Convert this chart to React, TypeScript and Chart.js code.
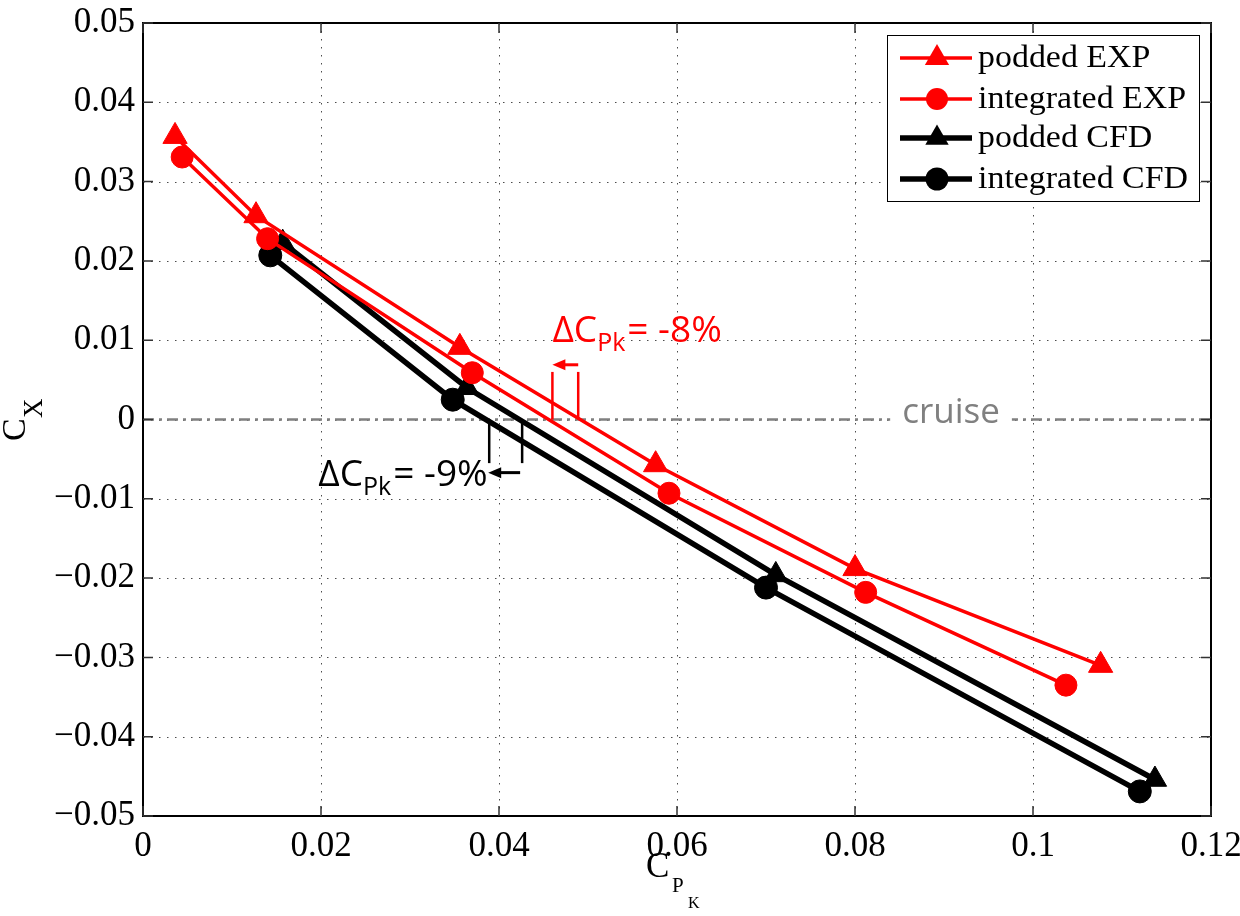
import React, { useEffect, useRef } from "react";
import { Chart, registerables } from "chart.js";

Chart.register(...registerables);

// ---- data ----
const poddedExpX = [0.0036, 0.0127, 0.0356, 0.0576, 0.0800, 0.1076];
const poddedExpY = [0.0357, 0.0257, 0.0091, -0.0057, -0.0188, -0.0310];
const integratedExpX = [0.0044, 0.0140, 0.0370, 0.0591, 0.0812, 0.1037];
const integratedExpY = [0.0331, 0.0228, 0.0059, -0.0093, -0.0218, -0.0335];
const poddedCfdX = [0.0157, 0.0364, 0.0711, 0.1137];
const poddedCfdY = [0.0223, 0.0040, -0.0196, -0.0454];
const integratedCfdX = [0.0143, 0.0348, 0.0700, 0.1120];
const integratedCfdY = [0.0207, 0.0025, -0.0212, -0.0469];

const seriesNames = ["podded EXP", "integrated EXP", "podded CFD", "integrated CFD"];

const xTickValues = [0, 0.02, 0.04, 0.06, 0.08, 0.1, 0.12];
const xTickLabels = ["0", "0.02", "0.04", "0.06", "0.08", "0.1", "0.12"];
const yTickValues = [-0.05, -0.04, -0.03, -0.02, -0.01, 0, 0.01, 0.02, 0.03, 0.04, 0.05];
const yTickLabels = ["\u22120.05", "\u22120.04", "\u22120.03", "\u22120.02", "\u22120.01", "0", "0.01", "0.02", "0.03", "0.04", "0.05"];

// annotation anchors (data coordinates)
const cruiseY = 0;
const cruiseLabel = "cruise";
const cruiseLabelPos = [0.0853, -0.0004];
const redBracketX = [0.0460, 0.0489];
const redBracketY = [0.0060, 0];
const redArrowY = 0.0069;
const redLabel = ["\u0394C", "Pk", "= -8%"];
const redLabelPos = [0.0460, 0.0098];
const blackBracketX = [0.0389, 0.0426];
const blackBracketY = [0, -0.0055];
const blackArrowY = -0.0067;
const blackLabel = ["\u0394C", "Pk", "= -9%"];
const blackLabelPos = [0.0197, -0.0084];

const RED = "#ff0000";
const BLACK = "#000000";
const SERIF = '"Liberation Serif", "Times New Roman", serif';
const SANS = '"Open Sans", sans-serif';

function toPoints(xs: number[], ys: number[]) {
  return xs.map((x, i) => ({ x, y: ys[i] }));
}

function drawMarker(ctx: CanvasRenderingContext2D, style: string, x: number, y: number, r: number, color: string) {
  ctx.save();
  ctx.fillStyle = color;
  ctx.beginPath();
  if (style === "triangle") {
    let rad = 0;
    ctx.moveTo(x + Math.sin(rad) * r, y - Math.cos(rad) * r);
    rad += (2 * Math.PI) / 3;
    ctx.lineTo(x + Math.sin(rad) * r, y - Math.cos(rad) * r);
    rad += (2 * Math.PI) / 3;
    ctx.lineTo(x + Math.sin(rad) * r, y - Math.cos(rad) * r);
    ctx.closePath();
  } else {
    ctx.arc(x, y, r, 0, Math.PI * 2);
  }
  ctx.fill();
  ctx.restore();
}

function drawArrowLeft(ctx: CanvasRenderingContext2D, x1: number, x2: number, y: number, color: string) {
  ctx.save();
  ctx.strokeStyle = color;
  ctx.fillStyle = color;
  ctx.lineWidth = 3;
  ctx.beginPath();
  ctx.moveTo(x2, y);
  ctx.lineTo(x1 + 10, y);
  ctx.stroke();
  ctx.beginPath();
  ctx.moveTo(x1, y);
  ctx.lineTo(x1 + 13, y - 5.5);
  ctx.lineTo(x1 + 13, y + 5.5);
  ctx.closePath();
  ctx.fill();
  ctx.restore();
}

function drawDeltaLabel(ctx: CanvasRenderingContext2D, parts: string[], x: number, baseline: number, color: string) {
  ctx.save();
  ctx.fillStyle = color;
  ctx.textBaseline = "alphabetic";
  ctx.textAlign = "left";
  ctx.font = `37px ${SANS}`;
  ctx.fillText(parts[0], x, baseline);
  let cx = x + ctx.measureText(parts[0]).width;
  ctx.font = `25px ${SANS}`;
  ctx.fillText(parts[1], cx, baseline + 9);
  cx += ctx.measureText(parts[1]).width + 2;
  ctx.font = `37px ${SANS}`;
  ctx.fillText(parts[2], cx, baseline);
  ctx.restore();
}

const decorPlugin = {
  id: "decor",
  beforeDatasetsDraw(chart: any) {
    const { ctx, chartArea: a, scales } = chart;
    const xs = scales.x;
    const ys = scales.y;
    ctx.save();
    // dotted grid
    ctx.strokeStyle = "rgba(0,0,0,0.7)";
    ctx.lineWidth = 1;
    ctx.setLineDash([1.5, 6.5]);
    xTickValues.forEach((v) => {
      const px = Math.round(xs.getPixelForValue(v)) + 0.5;
      if (px <= a.left + 2 || px >= a.right - 2) return;
      ctx.beginPath();
      ctx.moveTo(px, a.top);
      ctx.lineTo(px, a.bottom);
      ctx.stroke();
    });
    yTickValues.forEach((v) => {
      const py = Math.round(ys.getPixelForValue(v)) + 0.5;
      if (py <= a.top + 2 || py >= a.bottom - 2) return;
      ctx.beginPath();
      ctx.moveTo(a.left, py);
      ctx.lineTo(a.right, py);
      ctx.stroke();
    });
    // cruise line
    const cy = ys.getPixelForValue(cruiseY);
    ctx.strokeStyle = "#808080";
    ctx.lineWidth = 2.5;
    ctx.setLineDash([11, 5, 3, 5]);
    ctx.beginPath();
    ctx.moveTo(a.left, cy);
    ctx.lineTo(a.right, cy);
    ctx.stroke();
    ctx.setLineDash([]);
    // cruise label with white background
    const tx = xs.getPixelForValue(cruiseLabelPos[0]);
    const ty = ys.getPixelForValue(cruiseLabelPos[1]);
    ctx.font = `35px ${SANS}`;
    const tw = ctx.measureText(cruiseLabel).width;
    ctx.fillStyle = "#ffffff";
    ctx.fillRect(tx - 12, ty - 28, tw + 24, 34);
    ctx.fillStyle = "#808080";
    ctx.textBaseline = "alphabetic";
    ctx.textAlign = "left";
    ctx.fillText(cruiseLabel, tx, ty);
    ctx.restore();
  },
  afterDraw(chart: any) {
    const { ctx, chartArea: a, scales } = chart;
    const xs = scales.x;
    const ys = scales.y;
    ctx.save();
    // annotations: brackets
    ctx.lineWidth = 2.5;
    ctx.strokeStyle = RED;
    redBracketX.forEach((v) => {
      const px = xs.getPixelForValue(v);
      ctx.beginPath();
      ctx.moveTo(px, ys.getPixelForValue(redBracketY[0]));
      ctx.lineTo(px, ys.getPixelForValue(redBracketY[1]));
      ctx.stroke();
    });
    ctx.strokeStyle = BLACK;
    blackBracketX.forEach((v) => {
      const px = xs.getPixelForValue(v);
      ctx.beginPath();
      ctx.moveTo(px, ys.getPixelForValue(blackBracketY[0]));
      ctx.lineTo(px, ys.getPixelForValue(blackBracketY[1]));
      ctx.stroke();
    });
    drawArrowLeft(ctx, xs.getPixelForValue(redBracketX[0]), xs.getPixelForValue(redBracketX[1]), ys.getPixelForValue(redArrowY), RED);
    drawArrowLeft(ctx, xs.getPixelForValue(blackBracketX[0]) - 1, xs.getPixelForValue(blackBracketX[1]) - 2, ys.getPixelForValue(blackArrowY), BLACK);
    drawDeltaLabel(ctx, redLabel, xs.getPixelForValue(redLabelPos[0]), ys.getPixelForValue(redLabelPos[1]), RED);
    drawDeltaLabel(ctx, blackLabel, xs.getPixelForValue(blackLabelPos[0]), ys.getPixelForValue(blackLabelPos[1]), BLACK);

    // axes box
    ctx.strokeStyle = BLACK;
    ctx.lineWidth = 2;
    ctx.strokeRect(a.left, a.top, a.right - a.left, a.bottom - a.top);
    // inner ticks
    ctx.lineWidth = 1.5;
    ctx.strokeStyle = "#333";
    const tl = 10;
    xTickValues.forEach((v) => {
      const px = xs.getPixelForValue(v);
      ctx.beginPath();
      ctx.moveTo(px, a.bottom);
      ctx.lineTo(px, a.bottom - tl);
      ctx.moveTo(px, a.top);
      ctx.lineTo(px, a.top + tl);
      ctx.stroke();
    });
    yTickValues.forEach((v) => {
      const py = ys.getPixelForValue(v);
      ctx.beginPath();
      ctx.moveTo(a.left, py);
      ctx.lineTo(a.left + tl, py);
      ctx.moveTo(a.right, py);
      ctx.lineTo(a.right - tl, py);
      ctx.stroke();
    });

    // axis titles
    ctx.fillStyle = BLACK;
    ctx.textAlign = "left";
    ctx.textBaseline = "alphabetic";
    ctx.font = `35px ${SERIF}`;
    ctx.fillText("C", 646, 877);
    ctx.font = `21px ${SERIF}`;
    ctx.fillText("P", 672, 892);
    ctx.font = `16px ${SERIF}`;
    ctx.fillText("K", 688, 908);

    ctx.save();
    ctx.translate(25, 441);
    ctx.rotate(-Math.PI / 2);
    ctx.font = `34px ${SERIF}`;
    ctx.fillText("C", 0, 0);
    ctx.font = `27px ${SERIF}`;
    ctx.fillText("X", 23, 17);
    ctx.restore();

    // legend
    const lx = 887, ly = 35, lw = 312, lh = 166;
    ctx.fillStyle = "#ffffff";
    ctx.fillRect(lx, ly, lw, lh);
    ctx.strokeStyle = BLACK;
    ctx.lineWidth = 1;
    ctx.strokeRect(lx + 0.5, ly + 0.5, lw, lh);
    const rows = [58, 99, 138, 179];
    chart.data.datasets.forEach((ds: any, i: number) => {
      const y = rows[i];
      ctx.strokeStyle = ds.borderColor;
      ctx.lineWidth = ds.borderWidth;
      ctx.beginPath();
      ctx.moveTo(900, y);
      ctx.lineTo(972, y);
      ctx.stroke();
      drawMarker(ctx, ds.pointStyle, 937, y, ds.pointRadius, ds.borderColor);
      ctx.save();
      ctx.fillStyle = BLACK;
      ctx.font = `32px ${SERIF}`;
      ctx.textBaseline = "middle";
      ctx.translate(978, y + 1);
      ctx.scale(1.06, 1);
      ctx.fillText(seriesNames[i], 0, 0);
      ctx.restore();
    });
    ctx.restore();
  },
};

export default function App() {
  const ref = useRef<HTMLCanvasElement | null>(null);
  useEffect(() => {
    if (!ref.current) return;
    const mk = (i: number, xs: number[], ys: number[], color: string, style: string, r: number, w: number) => ({
      label: seriesNames[i],
      data: toPoints(xs, ys),
      showLine: true,
      borderColor: color,
      backgroundColor: color,
      borderWidth: w,
      pointStyle: style,
      pointRadius: r,
      pointHoverRadius: r,
      pointBackgroundColor: color,
      pointBorderColor: color,
      pointBorderWidth: 1,
      tension: 0,
    });
    const chart = new Chart(ref.current, {
      type: "scatter",
      data: {
        datasets: [
          mk(0, poddedExpX, poddedExpY, RED, "triangle", 14, 3.5),
          mk(1, integratedExpX, integratedExpY, RED, "circle", 11, 3.5),
          mk(2, poddedCfdX, poddedCfdY, BLACK, "triangle", 13.5, 5.5),
          mk(3, integratedCfdX, integratedCfdY, BLACK, "circle", 11.5, 5.5),
        ] as any,
      },
      options: {
        animation: false,
        responsive: false,
        devicePixelRatio: 1,
        layout: { padding: { top: 23, right: 29, left: 0, bottom: 0 } },
        plugins: { legend: { display: false }, tooltip: { enabled: false } },
        scales: {
          x: {
            type: "linear",
            min: 0,
            max: 0.12,
            afterBuildTicks: (s: any) => {
              s.ticks = xTickValues.map((v) => ({ value: v }));
            },
            afterFit: (s: any) => {
              s.height = 100;
              s.paddingLeft = 0;
              s.paddingRight = 0;
            },
            grid: { display: false, drawTicks: false, tickLength: 0 },
            border: { display: false },
            ticks: {
              padding: 10,
              color: BLACK,
              font: { family: SERIF, size: 35 },
              maxRotation: 0,
              autoSkip: false,
              callback: (_v: any, i: number) => xTickLabels[i],
            },
          },
          y: {
            type: "linear",
            min: -0.05,
            max: 0.05,
            afterBuildTicks: (s: any) => {
              s.ticks = yTickValues.map((v) => ({ value: v }));
            },
            afterFit: (s: any) => {
              s.width = 143;
              s.paddingTop = 0;
              s.paddingBottom = 0;
            },
            grid: { display: false, drawTicks: false, tickLength: 0 },
            border: { display: false },
            ticks: {
              padding: 8,
              color: BLACK,
              font: { family: SERIF, size: 35 },
              autoSkip: false,
              callback: (_v: any, i: number) => yTickLabels[i],
            },
          },
        },
      },
      plugins: [decorPlugin],
    } as any);
    return () => chart.destroy();
  }, []);
  return (
    <div style={{ position: "absolute", left: 0, top: 0, width: 1240, height: 916, background: "#fff" }}>
      <canvas ref={ref} width={1240} height={916} style={{ display: "block", width: 1240, height: 916 }} />
    </div>
  );
}
